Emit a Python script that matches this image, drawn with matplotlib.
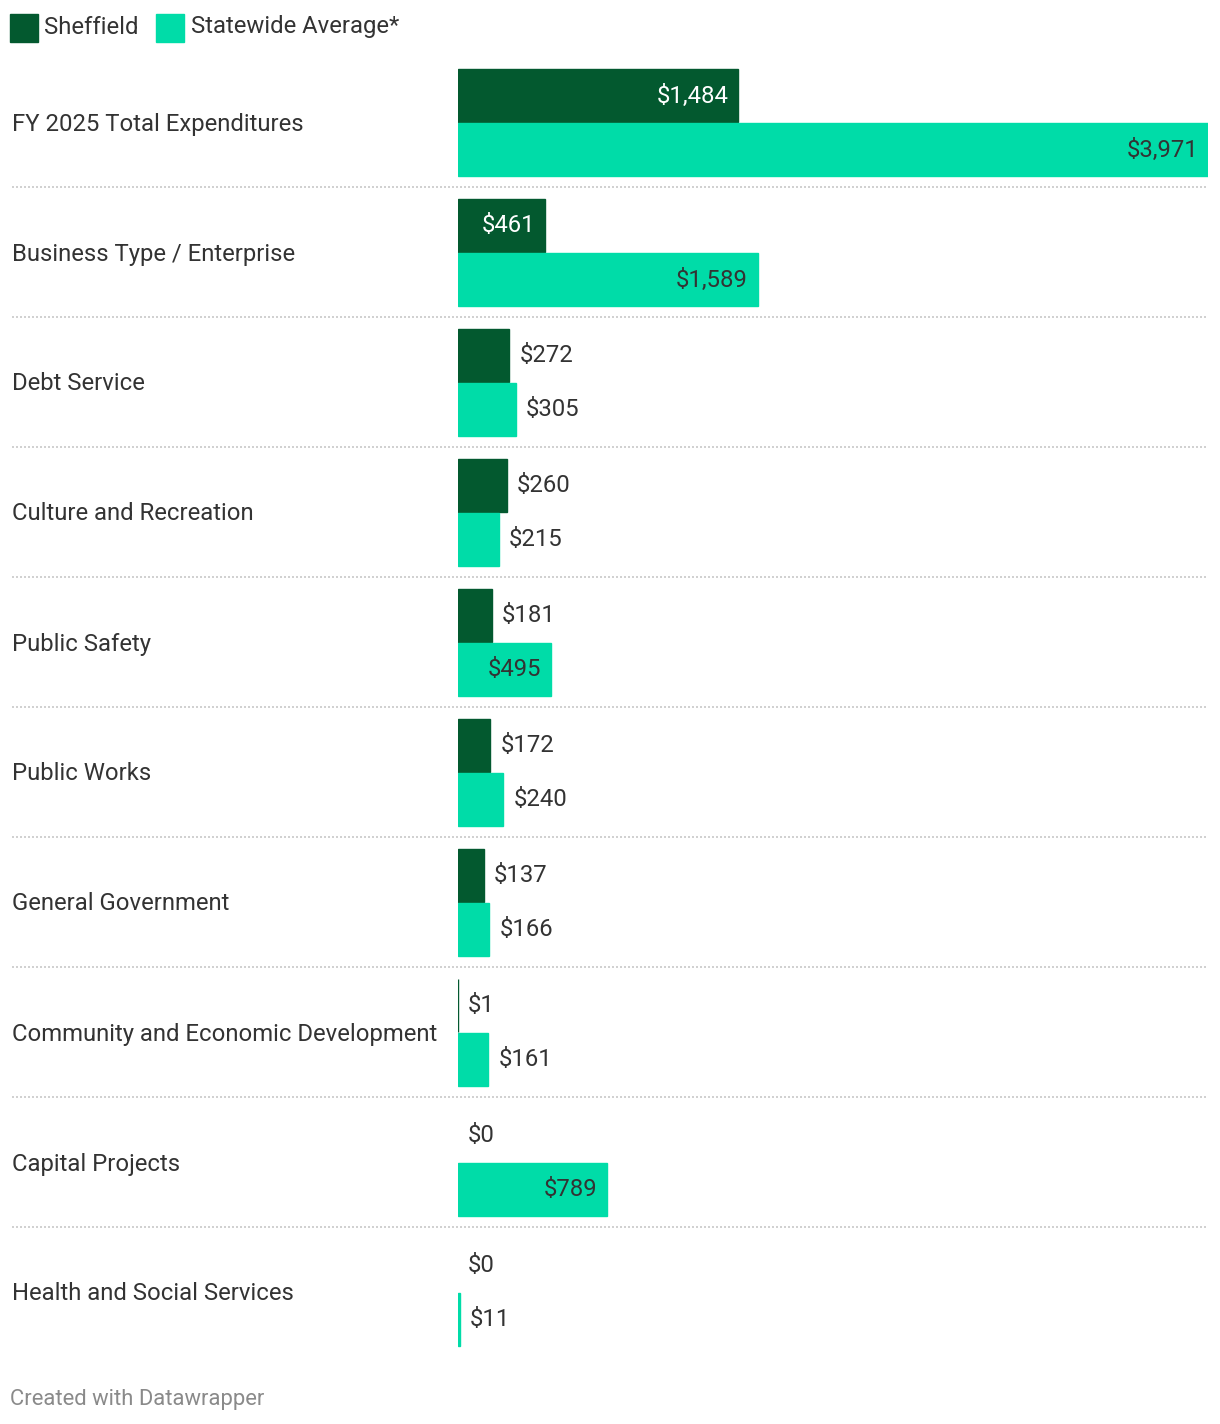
import matplotlib
matplotlib.use("Agg")
import matplotlib.pyplot as plt
from matplotlib.patches import Rectangle

categories = ["FY 2025 Total Expenditures", "Business Type / Enterprise", "Debt Service",
              "Culture and Recreation", "Public Safety", "Public Works", "General Government",
              "Community and Economic Development", "Capital Projects", "Health and Social Services"]
sheffield = [1484, 461, 272, 260, 181, 172, 137, 1, 0, 0]
statewide = [3971, 1589, 305, 215, 495, 240, 166, 161, 789, 11]
series_names = ["Sheffield", "Statewide Average*"]

DARK = "#03592f"
LIGHT = "#00dca8"
TXT = "#333333"
W, H = 1220, 1424
plt.rcParams['font.family'] = ['Roboto', 'DejaVu Sans']

fig = plt.figure(figsize=(W / 100, H / 100), dpi=100)
ov = fig.add_axes([0, 0, 1, 1])
ov.set_xlim(0, W)
ov.set_ylim(H, 0)
ov.axis("off")

bx = fig.add_axes([458 / W, 0, 750 / W, 1])
bx.set_xlim(0, max(statewide))
bx.set_ylim(H, 0)
bx.axis("off")
bx.patch.set_alpha(0)

FS = 17.2
row_h = 130
top0 = 68
bar_h = 54
px_per_unit = 750 / max(statewide)
DY = 1

def label_width(s):
    return len(s) * 10.5 + 4

for i, cat in enumerate(categories):
    top = top0 + i * row_h
    yd = top + bar_h / 2
    yl = top + bar_h * 1.5
    for val, yc, col, txtcol in [(sheffield[i], yd, DARK, "white"), (statewide[i], yl, LIGHT, TXT)]:
        lw = 1.0 if val > 0 else 0
        bx.barh(yc, val, height=bar_h - 1, color=col, edgecolor=col, linewidth=lw)
        s = f"${val:,}"
        wpx = val * px_per_unit
        if wpx > label_width(s) + 20:
            bx.annotate(s, (val, yc + DY), xytext=(-10, 0), textcoords="offset pixels",
                        ha="right", va="center", fontsize=FS, color=txtcol)
        else:
            bx.annotate(s, (val, yc + DY), xytext=(10, 0), textcoords="offset pixels",
                        ha="left", va="center", fontsize=FS, color=TXT)
    ov.text(12, top + bar_h + DY + 1, cat, ha="left", va="center", fontsize=FS, color=TXT)
    if i < len(categories) - 1:
        ysep = top + 2 * bar_h + 11
        ov.plot([12, 1208], [ysep, ysep], color="#c8c8c8", lw=1.2, ls=(0, (1.2, 1.2)))

ov.add_patch(Rectangle((10, 14), 28, 28, color=DARK))
ov.text(44, 27, series_names[0], ha="left", va="center", fontsize=FS, color=TXT)
ov.add_patch(Rectangle((156, 14), 28, 28, color=LIGHT))
ov.text(191, 27, series_names[1], ha="left", va="center", fontsize=FS, color=TXT)

ov.text(10, 1399, "Created with Datawrapper", ha="left", va="center", fontsize=15.8, color="#8a8a8a")

fig.savefig("out.png", dpi=100, facecolor="white")
